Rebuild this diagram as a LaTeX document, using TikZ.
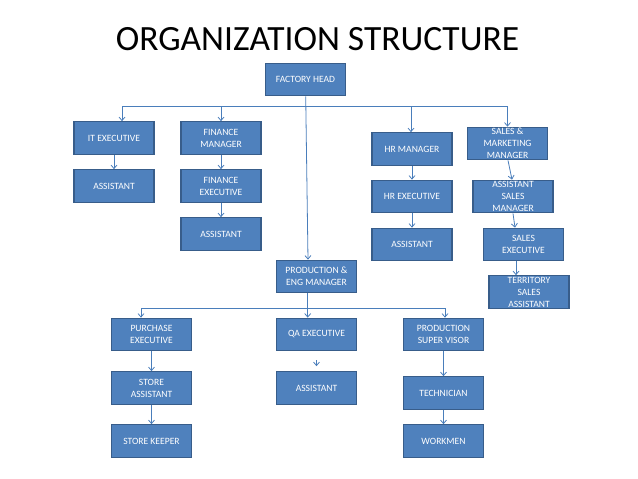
\documentclass[tikz,border=0pt]{standalone}
\usepackage{fontspec}
\setmainfont{Carlito}
\usetikzlibrary{arrows.meta,positioning,calc}
\definecolor{boxfill}{HTML}{4F81BD}
\definecolor{boxline}{HTML}{385D8A}
\definecolor{conline}{HTML}{4A7EBB}

\begin{document}
\begin{tikzpicture}[x=1pt,y=-1pt,
  ttl/.style={font=\fontsize{35.5}{40}\selectfont, inner sep=0pt},
  obox/.style={rectangle, draw=boxline, fill=boxfill, line width=1.2pt, text=white, font=\fontsize{9.6}{12}\selectfont, align=center, minimum width=80pt, minimum height=32.5pt, inner xsep=2pt, inner ysep=0pt},
  conn/.style={-{Straight Barb[length=3.5pt,width=6pt]}, line width=0.8pt, color=conline},
]
\fill[white] (0,0) rectangle (638,479);
\useasboundingbox (0,0) rectangle (638,479);

\node[ttl] (title) at (317.5,39) {ORGANIZATION STRUCTURE};

% top level
\node[obox] (fh) at (305.5,79.5) {FACTORY HEAD};
% left branches
\node[obox] (it) at (114,138) {IT EXECUTIVE};
\node[obox] (ita) at (114,186) {ASSISTANT};
\node[obox] (fm) at (221,138) {FINANCE\\MANAGER};
\node[obox] (fe) at (221,186) {FINANCE\\EXECUTIVE};
\node[obox] (fa) at (221,234) {ASSISTANT};
% right branches
\node[obox] (hr) at (412,149) {HR MANAGER};
\node[obox] (hre) at (412,196.5) {HR EXECUTIVE};
\node[obox] (hra) at (412,244.5) {ASSISTANT};
\node[obox] (smm) at (507.5,143.5) {SALES \&\\MARKETING\\MANAGER};
\node[obox] (asm) at (513,196.5) {ASSISTANT\\SALES\\MANAGER};
\node[obox] (se) at (523.5,244.5) {SALES\\EXECUTIVE};
\node[obox] (tsa) at (529,292) {TERRITORY\\SALES\\ASSISTANT};
% production
\node[obox] (pem) at (316.5,276.5) {PRODUCTION \&\\ENG MANAGER};
\node[obox] (pe) at (151.5,334.5) {PURCHASE\\EXECUTIVE};
\node[obox] (sa) at (151.5,388) {STORE\\ASSISTANT};
\node[obox] (sk) at (151.5,441) {STORE KEEPER};
\node[obox] (qa) at (316.5,334.5) {QA EXECUTIVE};
\node[obox] (qaa) at (316.5,388) {ASSISTANT};
\node[obox] (ps) at (443.5,334.5) {PRODUCTION\\SUPER VISOR};
\node[obox] (tec) at (443.5,393) {TECHNICIAN};
\node[obox] (wm) at (443.5,441) {WORKMEN};

% connectors from factory head
\draw[conn] ([xshift=0.2pt]fh.south) -- ([xshift=-8.5pt]pem.north);
\coordinate (topbar) at ($(fh.south)+(0,10)$);
\draw[conn] (topbar) -| ([xshift=8pt]it.north);
\draw[conn] (topbar) -| (fm.north);
\draw[conn] (topbar) -| ([xshift=-1pt]hr.north);
\draw[conn] (topbar) -| (smm.north);
\draw[conn] (it) -- (ita);
\draw[conn] (fm) -- (fe);
\draw[conn] (fe) -- (fa);
\draw[conn] (hr) -- (hre);
\draw[conn] (hre) -- (hra);
\draw[conn] ([xshift=0.5pt]smm.south) -- ([xshift=-1pt]asm.north);
\draw[conn] (asm.south) -- ([xshift=-8.5pt]se.north);
\draw[conn] ([xshift=-7.5pt]se.south) -- ([xshift=-13pt]tsa.north);

% connectors from production manager
\coordinate (botbar) at ($(pem.south)+(-8.8,15.5)$);
\draw[conn] ([xshift=-8.8pt]pem.south) -- ([xshift=-8.8pt]qa.north);
\draw[conn] (botbar) -| ([xshift=-10.5pt]pe.north);
\draw[conn] (botbar) -| ([xshift=1.5pt]ps.north);
\draw[conn] (pe) -- (sa);
\draw[conn] (sa) -- (sk);
\draw[conn, shorten <=9pt, shorten >=5pt] (qa) -- (qaa);
\draw[conn] (ps) -- (tec);
\draw[conn] (tec) -- (wm);

\end{tikzpicture}
\end{document}
